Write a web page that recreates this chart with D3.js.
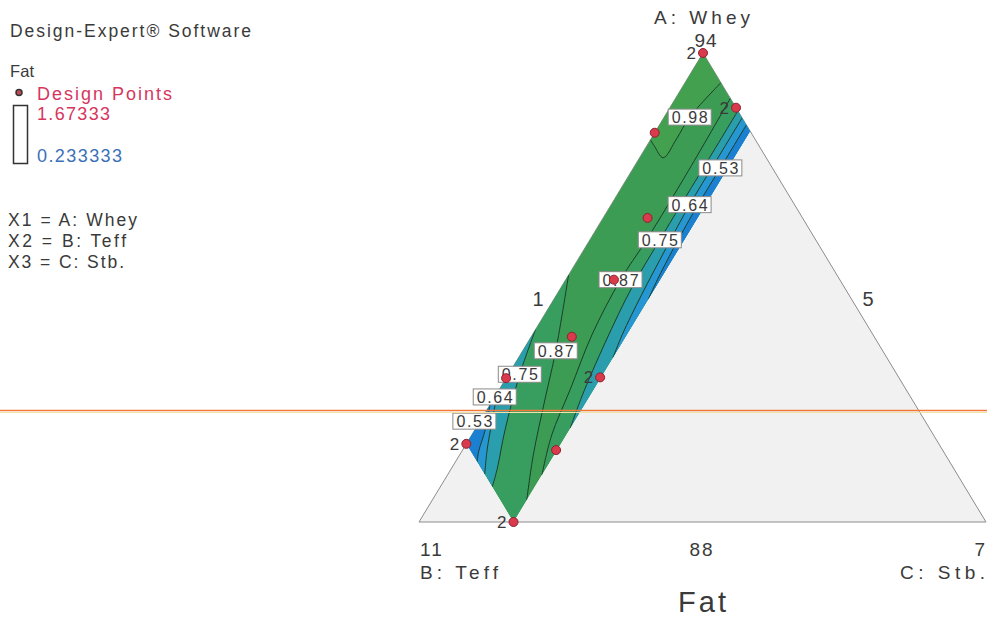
<!DOCTYPE html>
<html>
<head>
<meta charset="utf-8">
<script src="https://cdn.jsdelivr.net/npm/d3@7"></script>
<style>
  html, body { margin: 0; padding: 0; background: #ffffff; }
  svg { display: block; font-family: "Liberation Sans", Arial, sans-serif; }
</style>
</head>
<body>
<svg id="chart" width="987" height="620"></svg>
<script>
// ---- Mixture components (actual units, total = 100) ----
const componentNames = ["A: Whey", "B: Teff", "C: Stb."];
const lowLimits = [88, 5, 1];
const highLimits = [94, 11, 7];

// Constrained region vertices [Whey, Teff, Stb]
const regionVertices = [[94, 5, 1], [93, 5, 2], [88, 10, 2], [89, 10, 1]];

// Design points [Whey, Teff, Stb, replicates]
const designPoints = [
  [94.00, 5.00, 1.00, 2],
  [93.30, 5.00, 1.70, 2],
  [92.98, 6.02, 1.00, 1],
  [91.89, 6.64, 1.47, 1],
  [91.10, 7.39, 1.51, 1],
  [90.37, 8.20, 1.43, 1],
  [89.85, 8.16, 1.99, 2],
  [89.84, 9.16, 1.00, 1],
  [89.00, 10.00, 1.00, 2],
  [88.92, 9.09, 1.99, 1],
  [88.00, 10.00, 2.00, 2]
];

// Fat response range and contour levels
const fatRange = [0.233333, 1.67333];
const contourLevels = [0.53, 0.64, 0.75, 0.87, 0.98];

// Contours on the Stb.-rich side (from the Teff = 5 edge down to Stb. = 2)
const fat053Upper = [[93.08, 5.00, 1.92], [92.53, 5.55, 1.92], [92.00, 6.08, 1.92], [91.50, 6.56, 1.94], [91.10, 6.93, 1.97], [90.85, 7.15, 2.00]];
const fat064Upper = [[93.17, 5.00, 1.83], [92.60, 5.57, 1.83], [92.06, 6.11, 1.83], [91.50, 6.64, 1.86], [90.90, 7.20, 1.90], [90.40, 7.65, 1.95], [90.10, 7.90, 2.00]];
const fat075Upper = [[93.26, 5.00, 1.74], [92.50, 5.76, 1.74], [91.61, 6.65, 1.74], [91.00, 7.25, 1.75], [90.30, 7.88, 1.82], [89.60, 8.48, 1.92], [89.20, 8.80, 2.00]];
const fat087Upper = [[93.42, 5.00, 1.58], [92.50, 5.90, 1.60], [91.60, 6.80, 1.60], [91.10, 7.32, 1.58], [90.40, 7.97, 1.63], [89.70, 8.55, 1.75], [89.10, 9.05, 1.85], [88.60, 9.40, 2.00]];

// Contours on the Teff-rich side (from the Stb. = 1 edge down towards the base)
const fat053Lower = [[89.50, 9.50, 1.00], [89.18, 9.71, 1.11], [88.90, 9.92, 1.18], [88.77, 10.00, 1.23]];
const fat064Lower = [[89.66, 9.34, 1.00], [89.31, 9.57, 1.12], [88.92, 9.82, 1.26], [88.61, 10.00, 1.39]];
const fat075Lower = [[90.46, 8.54, 1.00], [89.89, 8.99, 1.12], [89.18, 9.50, 1.32], [88.67, 9.84, 1.49], [88.45, 10.00, 1.55]];
const fat087Lower = [[91.16, 7.84, 1.00], [90.19, 8.46, 1.35], [89.56, 8.89, 1.55], [88.86, 9.38, 1.77], [88.28, 9.72, 2.00]];

// Contour around the Whey-rich corner
const fat098Top = [[92.89, 6.11, 1.00], [92.75, 6.05, 1.15], [92.66, 6.09, 1.25], [92.90, 5.83, 1.27], [93.18, 5.55, 1.27], [93.62, 5.00, 1.38]];

// Contour labels [value, Whey, Teff, Stb]
const contourLabels = [
  [0.98, 93.18, 5.55, 1.27],
  [0.53, 92.53, 5.55, 1.92],
  [0.64, 92.06, 6.11, 1.83],
  [0.75, 91.61, 6.65, 1.74],
  [0.87, 91.10, 7.32, 1.58],
  [0.87, 90.19, 8.46, 1.35],
  [0.75, 89.89, 8.99, 1.12],
  [0.64, 89.60, 9.40, 1.00],
  [0.53, 89.29, 9.77, 0.94]
];

// ---- Layout ----
const apexPx = [703, 53], leftPx = [419, 522], rightPx = [986, 522];
const pseudo = lowLimits.map((lo, i) => d3.scaleLinear().domain([lo, highLimits[i]]).range([0, 1]));
function project(p) {
  const a = pseudo[0](p[0]), b = pseudo[1](p[1]), c = pseudo[2](p[2]);
  return [a * apexPx[0] + b * leftPx[0] + c * rightPx[0],
          a * apexPx[1] + b * leftPx[1] + c * rightPx[1]];
}

const svg = d3.select("#chart");
const ink = "#3a3a3a";

function txt(g, x, y, s, opt = {}) {
  const t = g.append("text")
    .attr("x", x).attr("y", y)
    .attr("font-size", opt.size || 15)
    .attr("fill", opt.fill || ink)
    .attr("text-anchor", opt.anchor || "start")
    .text(s);
  if (opt.width) t.attr("textLength", opt.width).attr("lengthAdjust", "spacing");
  if (opt.ls) t.attr("letter-spacing", opt.ls);
  return t;
}

// ---- Triangle ----
const plot = svg.append("g");
plot.append("polygon")
  .attr("points", [apexPx, leftPx, rightPx].map(p => p.join(",")).join(" "))
  .attr("fill", "#f1f1f1").attr("stroke", "#8c8c8c").attr("stroke-width", 1);

// ---- Region fill ----
const defs = svg.append("defs");
defs.append("clipPath").attr("id", "region")
  .append("polygon").attr("points", regionVertices.map(v => project(v).join(",")).join(" "));

const bandColor = d3.scaleThreshold()
  .domain(contourLevels)
  .range(["#1c80d2", "#2697d2", "#2a9ead", "#389e5f", "#3c9c53", "#42a04f"]);

const smooth = d3.line().curve(d3.curveCatmullRom.alpha(0.5));
const fillG = plot.append("g").attr("clip-path", "url(#region)");

fillG.append("polygon")
  .attr("points", regionVertices.map(v => project(v).join(",")).join(" "))
  .attr("fill", bandColor(0.9));

// [level, contour, region corners enclosed on the low side]
const upperSet = [
  [0.87, fat087Upper, [regionVertices[1]]],
  [0.75, fat075Upper, [regionVertices[1]]],
  [0.64, fat064Upper, [regionVertices[1]]],
  [0.53, fat053Upper, [regionVertices[1]]]
];
const lowerSet = [
  [0.87, fat087Lower, [regionVertices[2], regionVertices[3]]],
  [0.75, fat075Lower, [regionVertices[3]]],
  [0.64, fat064Lower, [regionVertices[3]]],
  [0.53, fat053Lower, [regionVertices[3]]]
];

function band(pts, corners, color) {
  const tail = corners.map(c => "L" + project(c).join(",")).join("");
  fillG.append("path")
    .attr("d", smooth(pts.map(project)) + tail + "Z")
    .attr("fill", color);
}
upperSet.forEach(([lv, pts, cs]) => band(pts, cs, bandColor(lv - 0.001)));
lowerSet.forEach(([lv, pts, cs]) => band(pts, cs, bandColor(lv - 0.001)));
band(fat098Top, [regionVertices[0]], bandColor(0.98));

// ---- Contour lines ----
const lineG = plot.append("g").attr("clip-path", "url(#region)");
[...upperSet, ...lowerSet, [0.98, fat098Top]].forEach(([lv, pts]) => {
  lineG.append("path").attr("d", smooth(pts.map(project)))
    .attr("fill", "none").attr("stroke", "#1b3f29").attr("stroke-width", 1);
});

// ---- Contour labels ----
const labG = plot.append("g");
contourLabels.forEach(([v, w, t, s]) => {
  const [x, y] = project([w, t, s]);
  const g = labG.append("g");
  g.append("rect").attr("x", x - 21.5).attr("y", y - 8).attr("width", 43).attr("height", 16)
    .attr("fill", "#ffffff").attr("stroke", "#8a8a8a").attr("stroke-width", 1);
  g.append("text").attr("x", x).attr("y", y + 6)
    .attr("text-anchor", "middle").attr("font-size", 16).attr("fill", ink)
    .attr("textLength", 36).attr("lengthAdjust", "spacing")
    .text(d3.format(".2f")(v));
});

// ---- Design points ----
const dpG = plot.append("g");
designPoints.forEach(d => {
  const [x, y] = project(d);
  dpG.append("circle").attr("cx", x).attr("cy", y).attr("r", 4.5)
    .attr("fill", "#d93a4c").attr("stroke", "#8e2230").attr("stroke-width", 1);
  if (d[3] > 1) txt(dpG, x - 7, y + 6, String(d[3]), { size: 17, anchor: "end" });
});

// ---- Axis annotations ----
const ax = svg.append("g");
txt(ax, 702, 24, componentNames[0], { size: 19, anchor: "middle", width: 96 });
txt(ax, 706, 47, String(highLimits[0]), { size: 19, anchor: "middle", ls: 1 });
txt(ax, 420, 556, String(highLimits[1]), { size: 19, ls: 2 });
txt(ax, 420, 579, componentNames[1], { size: 19, width: 78 });
txt(ax, 702, 556, String(lowLimits[0]), { size: 19, anchor: "middle", ls: 2 });
txt(ax, 985, 556, String(highLimits[2]), { size: 19, anchor: "end" });
txt(ax, 985, 579, componentNames[2], { size: 19, anchor: "end", width: 85 });
txt(ax, 538, 306, String(lowLimits[2]), { size: 20, anchor: "middle" });
txt(ax, 868, 306, String(lowLimits[1]), { size: 20, anchor: "middle" });
txt(ax, 702, 612, "Fat", { size: 29, anchor: "middle", width: 48 });

// ---- Legend ----
const lg = svg.append("g");
txt(lg, 10, 37, "Design-Expert\u00AE Software", { size: 17.5, width: 241 });
txt(lg, 10, 77, "Fat", { size: 16.5, width: 24 });
lg.append("circle").attr("cx", 19).attr("cy", 92.5).attr("r", 3)
  .attr("fill", "#c24a56").attr("stroke", "#333").attr("stroke-width", 1.5);
txt(lg, 37, 100, "Design Points", { size: 18, fill: "#d6365e", width: 135 });
lg.append("rect").attr("x", 13.5).attr("y", 105.5).attr("width", 14).attr("height", 58)
  .attr("fill", "none").attr("stroke", "#333").attr("stroke-width", 1.5);
txt(lg, 37, 120, d3.format(".6")(fatRange[1]), { size: 18, fill: "#d6365e", width: 73 });
txt(lg, 37, 162, d3.format(".6")(fatRange[0]), { size: 18, fill: "#3a70b8", width: 85 });
txt(lg, 8, 226, "X1 = " + componentNames[0], { size: 17.5, width: 129 });
txt(lg, 8, 247, "X2 = " + componentNames[1], { size: 17.5, width: 118 });
txt(lg, 8, 268, "X3 = " + componentNames[2], { size: 17.5, width: 116 });

// ---- Stray orange scan line across the page ----
svg.append("line").attr("x1", 0).attr("x2", 987).attr("y1", 410.5).attr("y2", 410.5)
  .attr("stroke", "#ee7b3c").attr("stroke-width", 1.6);
svg.append("line").attr("x1", 0).attr("x2", 987).attr("y1", 412.5).attr("y2", 412.5)
  .attr("stroke", "#f3e3a8").attr("stroke-width", 1);
</script>
</body>
</html>
